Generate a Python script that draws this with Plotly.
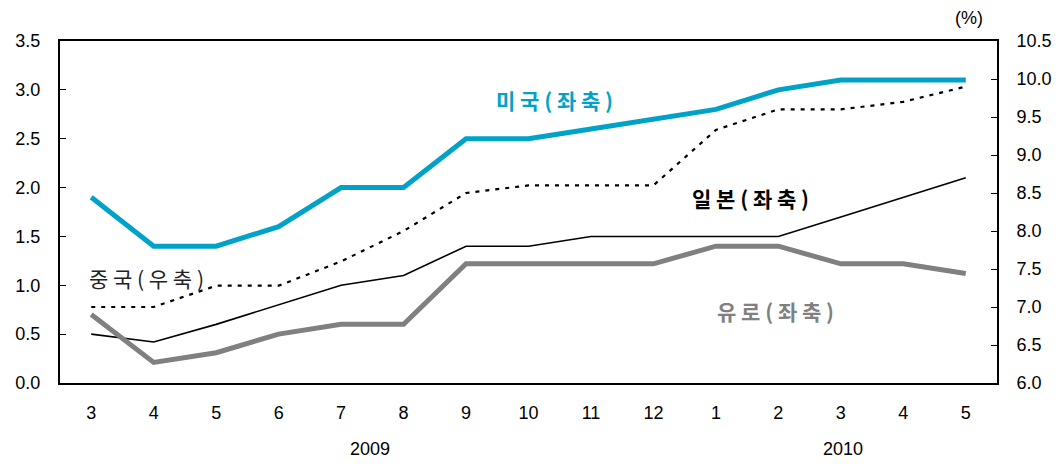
import plotly.graph_objects as go

months = ["3", "4", "5", "6", "7", "8", "9", "10", "11", "12", "1", "2", "3", "4", "5"]
years = ["2009", "2010"]
us = [1.9, 1.4, 1.4, 1.6, 2.0, 2.0, 2.5, 2.5, 2.6, 2.7, 2.8, 3.0, 3.1, 3.1, 3.1]
japan = [0.5, 0.42, 0.6, 0.8, 1.0, 1.1, 1.4, 1.4, 1.5, 1.5, 1.5, 1.5, 1.7, 1.9, 2.1]
euro = [0.7, 0.21, 0.31, 0.5, 0.6, 0.6, 1.22, 1.22, 1.22, 1.22, 1.4, 1.4, 1.22, 1.22, 1.12]
china = [7.0, 7.0, 7.28, 7.28, 7.6, 8.0, 8.5, 8.6, 8.6, 8.6, 9.33, 9.6, 9.6, 9.7, 9.9]

x = list(range(len(months)))
font = "Liberation Sans, Arial, sans-serif"
kfont = "Noto Sans CJK KR, sans-serif"

PL, PR, PT, PB = 60, 997, 41, 383  # plot area in window pixels
W, H = 1064, 464
fig = go.Figure()
fig.add_trace(go.Scatter(x=x, y=china, yaxis="y2", mode="lines",
                         line=dict(color="black", width=2.2, dash="4px,6px"), name="중국"))
fig.add_trace(go.Scatter(x=x, y=japan, mode="lines",
                         line=dict(color="black", width=1.6), name="일본"))
fig.add_trace(go.Scatter(x=x, y=euro, mode="lines",
                         line=dict(color="#808080", width=5), name="유로"))
fig.add_trace(go.Scatter(x=x, y=us, mode="lines",
                         line=dict(color="#00A2C7", width=5), name="미국"))

fig.update_layout(
    width=W, height=H,
    margin=dict(l=PL, r=W - PR, t=PT, b=H - PB, autoexpand=False),
    plot_bgcolor="white", paper_bgcolor="white",
    showlegend=False,
    font=dict(family=font, size=18, color="black"),
    xaxis=dict(range=[-0.5, 14.5], tickmode="array", tickvals=x, ticktext=months,
               showline=True, linecolor="black", linewidth=2, mirror=True,
               ticks="", showgrid=False, zeroline=False, ticklabelstandoff=12),
    yaxis=dict(range=[0, 3.5], dtick=0.5, tickformat=".1f", showline=True,
               linecolor="black", linewidth=2, ticks="inside", ticklen=6,
               tickcolor="black", showgrid=False, zeroline=False, ticklabelstandoff=14),
    yaxis2=dict(range=[6.0, 10.5], dtick=0.5, tickformat=".1f", overlaying="y",
                side="right", showline=True, linecolor="black", linewidth=2,
                ticks="inside", ticklen=6, tickcolor="black", showgrid=False,
                zeroline=False, ticklabelstandoff=14),
)

def spaced(s):
    return " ".join(s)

fig.add_annotation(x=7.42, y=2.90, xref="x", yref="y", text="<b>" + spaced("미국(좌축)") + "</b>",
                   showarrow=False, font=dict(family=kfont, size=21, color="#00A2C7"))
fig.add_annotation(x=10.55, y=1.89, xref="x", yref="y", text="<b>" + spaced("일본(좌축)") + "</b>",
                   showarrow=False, font=dict(family=kfont, size=21, color="black"))
fig.add_annotation(x=0.89, y=1.07, xref="x", yref="y", text=spaced("중국(우축)"),
                   showarrow=False, font=dict(family=kfont, size=21, color="#222222"))
fig.add_annotation(x=10.95, y=0.74, xref="x", yref="y", text="<b>" + spaced("유로(좌축)") + "</b>",
                   showarrow=False, font=dict(family=kfont, size=21, color="#808080"))

def px(xp):
    return (xp - PL) / (PR - PL)

def py(yp):
    return (PB - yp) / (PB - PT)

fig.add_annotation(x=px(969), y=py(18), xref="paper", yref="paper", text="(%)",
                   showarrow=False, xanchor="center", yanchor="middle")
fig.add_annotation(x=px(370), y=py(449), xref="paper", yref="paper",
                   text=years[0], showarrow=False, xanchor="center", yanchor="middle")
fig.add_annotation(x=px(843), y=py(449), xref="paper", yref="paper",
                   text=years[1], showarrow=False, xanchor="center", yanchor="middle")

fig.write_html("out.html", config={"displayModeBar": False},
               post_script="document.body.style.margin='0';document.body.style.overflow='hidden';")
